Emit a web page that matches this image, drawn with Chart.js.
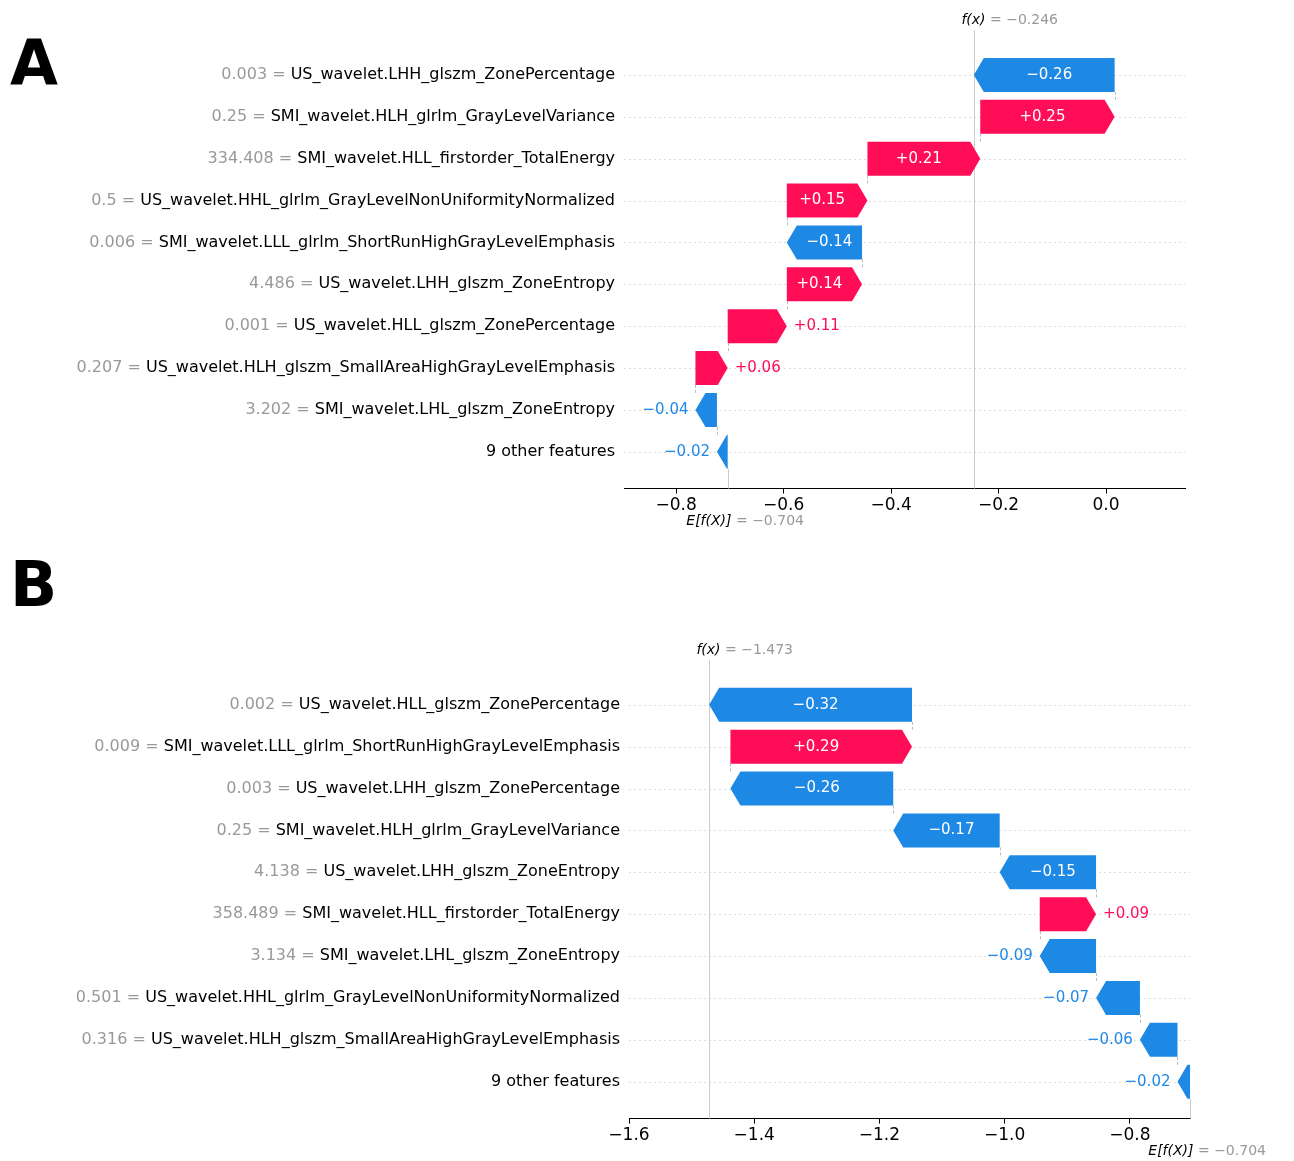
<!DOCTYPE html>
<html>
<head>
<meta charset="utf-8">
<script src="https://cdn.jsdelivr.net/npm/chart.js@4"></script>
<style>
  body { margin: 0; background: #fff; width: 1294px; height: 1161px; position: relative; font-family: "DejaVu Sans"; }
  .letter { position: absolute; left: 10px; font: 600 62px "DejaVu Sans"; color: #000; }
  canvas { position: absolute; left: 0; }
</style>
</head>
<body>
<div class="letter" style="top:26px">A</div>
<div class="letter" style="top:548px">B</div>
<canvas id="chartA" width="1294" height="540" style="top:0"></canvas>
<canvas id="chartB" width="1294" height="621" style="top:540px"></canvas>
<script>
// panel A, rows listed top to bottom
featValsA = ["0.003", "0.25", "334.408", "0.5", "0.006", "4.486", "0.001", "0.207", "3.202", ""];
featNamesA = [
  "US_wavelet.LHH_glszm_ZonePercentage",
  "SMI_wavelet.HLH_glrlm_GrayLevelVariance",
  "SMI_wavelet.HLL_firstorder_TotalEnergy",
  "US_wavelet.HHL_glrlm_GrayLevelNonUniformityNormalized",
  "SMI_wavelet.LLL_glrlm_ShortRunHighGrayLevelEmphasis",
  "US_wavelet.LHH_glszm_ZoneEntropy",
  "US_wavelet.HLL_glszm_ZonePercentage",
  "US_wavelet.HLH_glszm_SmallAreaHighGrayLevelEmphasis",
  "SMI_wavelet.LHL_glszm_ZoneEntropy",
  "9 other features",
];
shapA = [-0.262, 0.25, 0.21, 0.15, -0.14, 0.14, 0.11, 0.06, -0.04, -0.02];
baseA = -0.704;
fxA = -0.246;
ticksA = [-0.8, -0.6, -0.4, -0.2, 0.0];

// panel B
featValsB = ["0.002", "0.009", "0.003", "0.25", "4.138", "358.489", "3.134", "0.501", "0.316", ""];
featNamesB = [
  "US_wavelet.HLL_glszm_ZonePercentage",
  "SMI_wavelet.LLL_glrlm_ShortRunHighGrayLevelEmphasis",
  "US_wavelet.LHH_glszm_ZonePercentage",
  "SMI_wavelet.HLH_glrlm_GrayLevelVariance",
  "US_wavelet.LHH_glszm_ZoneEntropy",
  "SMI_wavelet.HLL_firstorder_TotalEnergy",
  "SMI_wavelet.LHL_glszm_ZoneEntropy",
  "US_wavelet.HHL_glrlm_GrayLevelNonUniformityNormalized",
  "US_wavelet.HLH_glszm_SmallAreaHighGrayLevelEmphasis",
  "9 other features",
];
shapB = [-0.324, 0.29, -0.26, -0.17, -0.154, 0.09, -0.09, -0.07, -0.06, -0.02];
baseB = -0.704;
fxB = -1.473;
ticksB = [-1.6, -1.4, -1.2, -1.0, -0.8];

RED = "#ff0d57";
BLUE = "#1e88e5";
FONT = '"DejaVu Sans"';

function fmt(v, d) {
  return (v < 0 ? "\u2212" : "") + Math.abs(v).toFixed(d);
}

function buildBars(shap, base) {
  // cumulative from the bottom row up
  let bars = new Array(shap.length);
  let cur = base;
  for (let i = shap.length - 1; i >= 0; i--) {
    bars[i] = { x: [cur, cur + shap[i]], y: i };
    cur += shap[i];
  }
  return bars;
}

function arrowPath(ctx, x0, x1, yc, h) {
  let len = Math.abs(x1 - x0);
  let dir = x1 > x0 ? 1 : -1;
  let head = Math.min(10, len);
  ctx.beginPath();
  ctx.moveTo(x0, yc - h / 2);
  ctx.lineTo(x1 - dir * head, yc - h / 2);
  ctx.lineTo(x1, yc);
  ctx.lineTo(x1 - dir * head, yc + h / 2);
  ctx.lineTo(x0, yc + h / 2);
  ctx.closePath();
}

function makeChart(id, vals, names, shap, base, fx, ticks, xmin, xmax, ymin, pad, fxOff, fxLineTop) {
  let bars = buildBars(shap, base);
  let waterfall = {
    id: "waterfall",
    afterDatasetsDraw(chart) {
      let ctx = chart.ctx;
      let xs = chart.scales.x, ys = chart.scales.y;
      let area = chart.chartArea;
      let h = 34;
      ctx.save();
      // dotted row lines
      ctx.strokeStyle = "#ddd";
      ctx.lineWidth = 1;
      ctx.setLineDash([2, 3]);
      for (let i = 0; i < bars.length; i++) {
        let y = Math.round(ys.getPixelForValue(i)) + 0.5;
        ctx.beginPath();
        ctx.moveTo(area.left, y);
        ctx.lineTo(area.right, y);
        ctx.stroke();
      }
      // connectors between bars
      ctx.strokeStyle = "#bbb";
      ctx.setLineDash([3, 2]);
      for (let i = 0; i < bars.length - 1; i++) {
        let x = Math.round(xs.getPixelForValue(bars[i].x[0])) + 0.5;
        ctx.beginPath();
        ctx.moveTo(x, ys.getPixelForValue(i) + h / 2);
        ctx.lineTo(x, ys.getPixelForValue(i + 1) - h / 2);
        ctx.stroke();
      }
      ctx.setLineDash([]);
      // f(x) line and E[f(X)] line
      let fxp = Math.round(xs.getPixelForValue(fx)) + 0.5;
      ctx.strokeStyle = "#ccc";
      ctx.beginPath();
      ctx.moveTo(fxp, area.top - fxLineTop);
      ctx.lineTo(fxp, area.bottom);
      ctx.stroke();
      let bp = Math.round(xs.getPixelForValue(base)) + 0.5;
      ctx.beginPath();
      ctx.moveTo(bp, ys.getPixelForValue(bars.length - 1) + h / 2);
      ctx.lineTo(bp, area.bottom);
      ctx.stroke();
      // arrows
      ctx.font = "15px " + FONT;
      ctx.textBaseline = "middle";
      for (let i = 0; i < bars.length; i++) {
        let x0 = xs.getPixelForValue(bars[i].x[0]);
        let x1 = xs.getPixelForValue(bars[i].x[1]);
        let yc = ys.getPixelForValue(i);
        let col = shap[i] > 0 ? RED : BLUE;
        arrowPath(ctx, x0, x1, yc, h);
        ctx.fillStyle = col;
        ctx.fill();
        let txt = (shap[i] > 0 ? "+" : "\u2212") + Math.abs(shap[i]).toFixed(2);
        let tw = ctx.measureText(txt).width;
        let len = Math.abs(x1 - x0);
        let dir = x1 > x0 ? 1 : -1;
        if (tw + 6 < len - 10) {
          ctx.fillStyle = "#fff";
          ctx.textAlign = "center";
          ctx.fillText(txt, (x0 + x1 - dir * 10) / 2, yc);
        } else {
          ctx.fillStyle = col;
          ctx.textAlign = dir > 0 ? "left" : "right";
          ctx.fillText(txt, x1 + dir * 7, yc);
        }
      }
      // feature labels
      ctx.font = "16px " + FONT;
      ctx.textAlign = "right";
      for (let i = 0; i < names.length; i++) {
        let yc = ys.getPixelForValue(i);
        let xr = area.left - 9;
        ctx.fillStyle = "#000";
        ctx.fillText(names[i], xr, yc);
        if (vals[i]) {
          let w = ctx.measureText(names[i]).width;
          ctx.fillStyle = "#999";
          ctx.fillText(vals[i] + " = ", xr - w, yc);
        }
      }
      // f(x) label
      ctx.font = "italic 14px " + FONT;
      ctx.textAlign = "left";
      let fl = "f(x)";
      let fw = ctx.measureText(fl).width;
      let fr = " = " + fmt(fx, 3);
      let fstart = fxp - fw / 2 - 1;
      let fy = area.top - fxOff;
      ctx.fillStyle = "#000";
      ctx.fillText(fl, fstart, fy);
      ctx.font = "14px " + FONT;
      ctx.fillStyle = "#999";
      ctx.fillText(fr, fstart + fw, fy);
      // E[f(X)] label
      ctx.font = "italic 14px " + FONT;
      let el = "E[f(X)]";
      let ew = ctx.measureText(el).width;
      let ey = area.bottom + 33;
      ctx.fillStyle = "#000";
      ctx.fillText(el, bp - ew + 3, ey);
      ctx.font = "14px " + FONT;
      ctx.fillStyle = "#999";
      ctx.fillText(" = " + fmt(base, 3), bp + 3, ey);
      ctx.restore();
    },
  };
  return new Chart(document.getElementById(id), {
    type: "bar",
    data: {
      datasets: [{ data: bars, backgroundColor: "rgba(0,0,0,0)", barThickness: 34 }],
    },
    options: {
      indexAxis: "y",
      responsive: false,
      animation: false,
      devicePixelRatio: 1,
      layout: { padding: pad },
      plugins: { legend: { display: false }, tooltip: { enabled: false } },
      scales: {
        x: {
          type: "linear",
          min: xmin,
          max: xmax,
          offset: false,
          afterBuildTicks: (s) => { s.ticks = ticks.map((v) => ({ value: v })); },
          ticks: {
            color: "#000",
            font: { family: "DejaVu Sans", size: 17 },
            padding: 2,
            callback: (v) => fmt(v, 1),
          },
          grid: { drawOnChartArea: false, drawTicks: true, tickLength: 5, color: "#000", offset: false },
          border: { display: true, color: "#000", width: 1 },
        },
        y: { type: "linear", reverse: true, min: ymin, max: 9.88, offset: false, display: false },
      },
    },
    plugins: [waterfall],
  });
}

makeChart("chartA", featValsA, featNamesA, shapA, baseA, fxA, ticksA, -0.897, 0.147, -0.5,
  { left: 624, right: 109, top: 54, bottom: 22 }, 34, 24);
makeChart("chartB", featValsB, featNamesB, shapB, baseB, fxB, ticksB, -1.6, -0.704, -1.07,
  { left: 629, right: 104, top: 120, bottom: 13 }, 10, 0);
</script>
</body>
</html>
